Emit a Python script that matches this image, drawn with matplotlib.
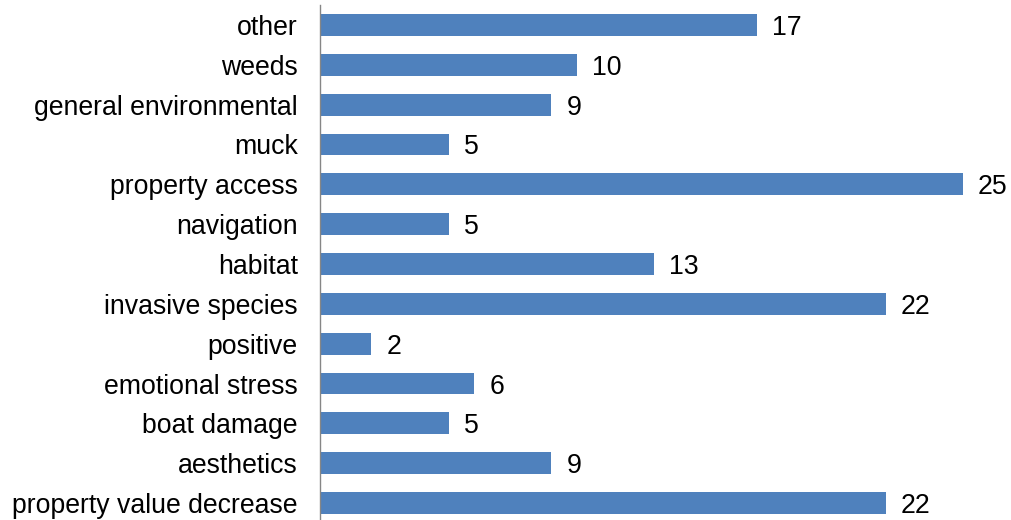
import matplotlib.pyplot as plt

plt.rcParams["font.family"] = ["Liberation Sans", "DejaVu Sans"]

# Categories listed bottom to top, as drawn on the y axis
categories = [
    "property value decrease",
    "aesthetics",
    "boat damage",
    "emotional stress",
    "positive",
    "invasive species",
    "habitat",
    "navigation",
    "property access",
    "muck",
    "general environmental",
    "weeds",
    "other",
]
counts = [22, 9, 5, 6, 2, 22, 13, 5, 25, 5, 9, 10, 17]

W, H, DPI = 1011, 520, 100
fig = plt.figure(figsize=(W / DPI, H / DPI), dpi=DPI)

# axes box in pixels: x axis zero at 320 px, scale ~25.72 px per unit
x0, y_top, y_bot = 320, 5, 523
xmax = 27
width_px = xmax * 25.72
ax = fig.add_axes([x0 / W, 1 - y_bot / H, width_px / W, (y_bot - y_top) / H])

pos = range(len(categories))
ax.barh(pos, counts, height=0.55, color="#4F81BD")
for y, v in zip(pos, counts):
    ax.text(v + 0.58, y, str(v), va="center_baseline", ha="left",
            fontsize=19.2, color="black")

ax.set_xlim(0, xmax)
ax.set_ylim(-0.5, len(categories) - 0.5)
ax.set_yticks(list(pos))
ax.set_yticklabels(categories, fontsize=19.2)
ax.tick_params(axis="y", length=0, pad=16)
ax.set_xticks([])
for side in ["top", "right", "bottom"]:
    ax.spines[side].set_visible(False)
ax.spines["left"].set_color("#868686")
ax.spines["left"].set_linewidth(1.0)

fig.savefig("out.png", dpi=DPI)
